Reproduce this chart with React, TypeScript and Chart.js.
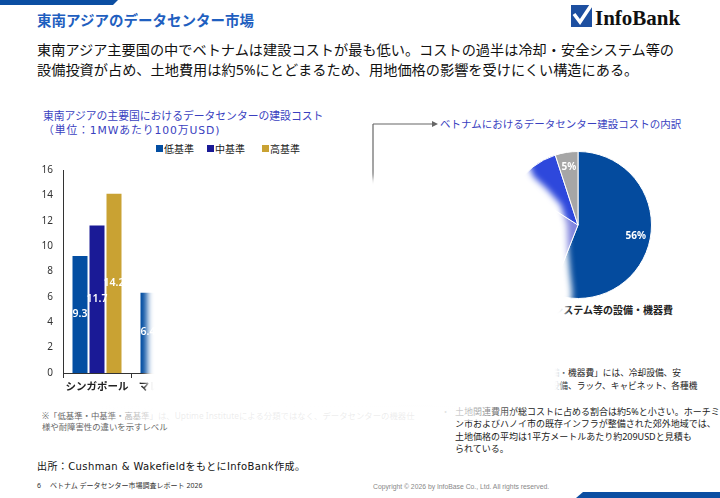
import React, { useEffect, useRef } from 'react';
import { Chart, registerables } from 'chart.js';
Chart.register(...registerables);

const FONT = "'Noto Sans', 'Noto Sans CJK JP', sans-serif";
const WIDE = "'DejaVu Sans', 'Noto Sans CJK JP', sans-serif";

// ---- bar chart data ----
const barCategories = ['シンガポール', 'マレーシア'];
const seriesNames = ['低基準', '中基準', '高基準'];
const lowValues: (number | null)[] = [9.3, 6.4];
const midValues: (number | null)[] = [11.7, null];
const highValues: (number | null)[] = [14.2, null];
const seriesColors = ['#034EA2', '#1A1A96', '#C9A233'];
const yMin = 0;
const yMax = 16;
const yStep = 2;

// ---- pie chart data ----
const pieLabels = ['冷却・安全システム等の設備・機器費', '建設工事費', '設計・管理費等', '土地費用'];
const pieValues = [56, 28, 11, 5];
const pieColors = ['#044B9E', '#8286DE', '#2E48DC', '#A6A6A6'];
const pieLabelShown = [true, true, false, true];

const barValueLabels = {
  id: 'barValueLabels',
  afterDatasetsDraw(chart: any) {
    const ctx = chart.ctx;
    ctx.save();
    ctx.fillStyle = '#ffffff';
    ctx.font = `600 10.5px ${FONT}`;
    ctx.textAlign = 'center';
    ctx.textBaseline = 'middle';
    chart.data.datasets.forEach((ds: any, i: number) => {
      const meta = chart.getDatasetMeta(i);
      meta.data.forEach((el: any, j: number) => {
        const v = ds.data[j];
        if (v == null) return;
        const p = el.getProps(['x', 'y', 'base'], true);
        ctx.fillText(String(v), p.x, (p.y + p.base) / 2);
      });
    });
    ctx.restore();
  },
};

const pieValueLabels = {
  id: 'pieValueLabels',
  afterDatasetsDraw(chart: any) {
    const ctx = chart.ctx;
    ctx.save();
    ctx.fillStyle = '#ffffff';
    ctx.font = `bold 10px ${FONT}`;
    ctx.textAlign = 'center';
    ctx.textBaseline = 'middle';
    const meta = chart.getDatasetMeta(0);
    meta.data.forEach((arc: any, j: number) => {
      if (!pieLabelShown[j]) return;
      const p = arc.getProps(['x', 'y', 'startAngle', 'endAngle', 'outerRadius'], true);
      const a = (p.startAngle + p.endAngle) / 2;
      const r = p.outerRadius * 0.8;
      ctx.fillText(`${chart.data.datasets[0].data[j]}%`, p.x + Math.cos(a) * r, p.y + Math.sin(a) * r);
    });
    ctx.restore();
  },
};

type TProps = {
  x: number;
  y: number;
  size: number;
  lh?: number;
  color?: string;
  weight?: any;
  family?: string;
  right?: number;
  ls?: number;
  children: React.ReactNode;
};

const T = ({ x, y, size, lh, color = '#111', weight = 400, family, right, ls, children }: TProps) => {
  const h = lh ?? Math.round(size * 1.4);
  const style: React.CSSProperties = {
    position: 'absolute',
    top: y - h / 2,
    fontSize: size,
    lineHeight: `${h}px`,
    color,
    fontWeight: weight,
    whiteSpace: 'nowrap',
    fontFamily: family || FONT,
  };
  if (ls !== undefined) style.letterSpacing = `${ls}px`;
  if (right !== undefined) style.right = right;
  else style.left = x;
  return <div style={style}>{children}</div>;
};

export default function App() {
  const barRef = useRef<HTMLCanvasElement>(null);
  const pieRef = useRef<HTMLCanvasElement>(null);

  useEffect(() => {
    const dataArrays = [lowValues, midValues, highValues];
    const bar = new Chart(barRef.current as HTMLCanvasElement, {
      type: 'bar',
      data: {
        labels: barCategories,
        datasets: seriesNames.map((name, i) => ({
          label: name,
          data: dataArrays[i],
          backgroundColor: seriesColors[i],
          borderColor: '#ffffff',
          borderWidth: 1,
          categoryPercentage: 0.75,
          barPercentage: 1,
        })),
      },
      options: {
        animation: false,
        responsive: false,
        maintainAspectRatio: false,
        layout: { padding: { top: 2, right: 11, left: 0, bottom: 0 } },
        plugins: { legend: { display: false }, tooltip: { enabled: false } },
        scales: {
          x: {
            grid: { display: true, drawOnChartArea: false, drawTicks: true, tickLength: 5, color: '#333', offset: true },
            border: { display: true, color: '#333', width: 1 },
            ticks: {
              color: '#222',
              font: { family: FONT, size: 10.5, weight: 'bold' },
              maxRotation: 0,
              minRotation: 0,
              autoSkip: false,
              padding: 3,
            },
            afterFit: (s: any) => {
              s.height = 27;
            },
          },
          y: {
            min: yMin,
            max: yMax,
            ticks: { stepSize: yStep, color: '#333', font: { family: FONT, size: 10 }, padding: 10 },
            grid: { display: false, drawTicks: false },
            border: { display: true, color: '#333', width: 1 },
            afterFit: (s: any) => {
              s.width = 33;
            },
          },
        },
      } as any,
      plugins: [barValueLabels],
    });

    const pie = new Chart(pieRef.current as HTMLCanvasElement, {
      type: 'pie',
      data: {
        labels: pieLabels,
        datasets: [{ data: pieValues, backgroundColor: pieColors, borderColor: '#ffffff', borderWidth: 1 }],
      },
      options: {
        animation: false,
        responsive: false,
        maintainAspectRatio: false,
        layout: { padding: 0 },
        plugins: { legend: { display: false }, tooltip: { enabled: false } },
      },
      plugins: [pieValueLabels],
    });

    return () => {
      bar.destroy();
      pie.destroy();
    };
  }, []);

  const maskPoints =
    '147,163 367,163 367,178 381,178 381,150 518,150 529,164 533,176 547,189 561,205 567,225 568,250 570,273 572,290 572,300 566,306 565,318 563,340 562,365 561,400 147,401';

  return (
    <div
      style={{
        position: 'fixed',
        left: 0,
        top: 0,
        width: 720,
        height: 498,
        background: '#ffffff',
        overflow: 'hidden',
        fontFamily: FONT,
      }}
    >
      <svg width={720} height={498} style={{ position: 'absolute', left: 0, top: 0 }}>
        <polygon points="0,0 118,0 113,5 0,5" fill="#0B4EA2" />
        <polygon points="583,492 720,492 720,498 576,498" fill="#0B4EA2" />
        <rect x={571} y={5} width={21} height={22} fill="#1D4FA0" />
        <path d="M574 14 L580 22 L592 4" stroke="#ffffff" strokeWidth={3.5} fill="none" strokeLinejoin="miter" />
        <line x1={373} y1={124} x2={433} y2={124} stroke="#666" strokeWidth={1.2} />
        <polygon points="432,121 438,124 432,127" fill="#666" />
        <line x1={373} y1={124} x2={373} y2={190} stroke="#666" strokeWidth={1.2} />
      </svg>

      <T x={37} y={20} size={14.5} lh={20} color="#1F5FC0" weight="bold">
        東南アジアのデータセンター市場
      </T>
      <T x={595} y={18} size={21} lh={24} color="#111" weight="bold" family="'Liberation Serif', serif">
        InfoBank
      </T>
      <T x={37} y={50} size={14.2} lh={20} color="#111">
        東南アジア主要国の中でベトナムは建設コストが最も低い。コストの過半は冷却・安全システム等の
      </T>
      <T x={37} y={70} size={14.2} lh={20} color="#111">
        設備投資が占め、土地費用は約5%にとどまるため、用地価格の影響を受けにくい構造にある。
      </T>

      <T x={43} y={115} size={10.8} lh={15} color="#3A3FBF">
        東南アジアの主要国におけるデータセンターの建設コスト
      </T>
      <T x={43} y={130} size={10.8} lh={15} color="#3A3FBF" family={WIDE} ls={0.9}>
        （単位：1MWあたり100万USD)
      </T>

      {seriesNames.map((name, i) => (
        <React.Fragment key={name}>
          <div
            style={{
              position: 'absolute',
              left: [156, 207, 262][i],
              top: 145,
              width: 7,
              height: 7,
              background: seriesColors[i],
            }}
          />
          <T x={[164, 215, 270][i]} y={148.5} size={10} lh={14} color="#222">
            {name}
          </T>
        </React.Fragment>
      ))}

      <canvas
        ref={barRef}
        width={180}
        height={246}
        style={{ position: 'absolute', left: 30, top: 154, width: 180, height: 246 }}
      />

      <T x={440} y={124} size={10.5} lh={15} color="#3A3FBF">
        ベトナムにおけるデータセンター建設コストの内訳
      </T>

      <canvas
        ref={pieRef}
        width={148}
        height={148}
        style={{ position: 'absolute', left: 504, top: 151, width: 148, height: 148 }}
      />

      <T x={0} right={47} y={310} size={10} lh={14} color="#222" weight="bold">
        {pieLabels[0]}
      </T>

      <T x={438} y={373} size={8.7} lh={13} color="#222">
        「冷却・安全システム等の設備・機器費」には、冷却設備、安
      </T>
      <T x={438} y={386.5} size={8.7} lh={13} color="#222">
        全システム、電源・配電関連設備、ラック、キャビネット、各種機
      </T>

      <T x={441} y={412} size={9} lh={12} color="#222">
        ・
      </T>
      <T x={455} y={412} size={9} lh={12} color="#222">
        土地関連費用が総コストに占める割合は約5%と小さい。ホーチミ
      </T>
      <T x={455} y={424.3} size={9} lh={12} color="#222">
        ン市およびハノイ市の既存インフラが整備された郊外地域では、
      </T>
      <T x={455} y={436.6} size={9} lh={12} color="#222">
        土地価格の平均は1平方メートルあたり約209USDと見積も
      </T>
      <T x={455} y={448.9} size={9} lh={12} color="#222">
        られている。
      </T>

      <T x={42} y={415.5} size={8.4} lh={12} color="#666">
        ※「低基準・中基準・高基準」は、Uptime Instituteによる分類ではなく、データセンターの機器仕
      </T>
      <T x={42} y={427} size={8.4} lh={12} color="#666">
        様や耐障害性の違いを示すレベル
      </T>

      <T x={37} y={467} size={10} lh={14} color="#111" family={WIDE} ls={0.4}>
        出所：Cushman & WakefieldをもとにInfoBank作成。
      </T>
      <T x={37} y={486} size={7} lh={10} color="#333">
        6
      </T>
      <T x={50} y={486} size={7} lh={10} color="#333">
        ベトナム データセンター市場調査レポート 2026
      </T>
      <T x={373} y={487} size={6.8} lh={10} color="#888" family="'Liberation Sans', Arial, sans-serif">
        Copyright © 2026 by InfoBase Co., Ltd. All rights reserved.
      </T>

      {/* partial reveal masks */}
      <svg width={720} height={498} style={{ position: 'absolute', left: 0, top: 0, pointerEvents: 'none' }}>
        <defs>
          <filter id="soft" x="-10%" y="-10%" width="120%" height="120%">
            <feGaussianBlur stdDeviation="3" />
          </filter>
        </defs>
        <polygon points={maskPoints} fill="#ffffff" filter="url(#soft)" />
      </svg>
      <div
        style={{
          position: 'absolute',
          left: 100,
          top: 405,
          width: 430,
          height: 16,
          pointerEvents: 'none',
          background:
            'linear-gradient(to right, rgba(255,255,255,0) 0px, rgba(255,255,255,0.5) 30px, rgba(255,255,255,0.88) 55px, rgba(255,255,255,0.88) 345px, rgba(255,255,255,0.6) 380px, rgba(255,255,255,0) 420px)',
        }}
      />
    </div>
  );
}
